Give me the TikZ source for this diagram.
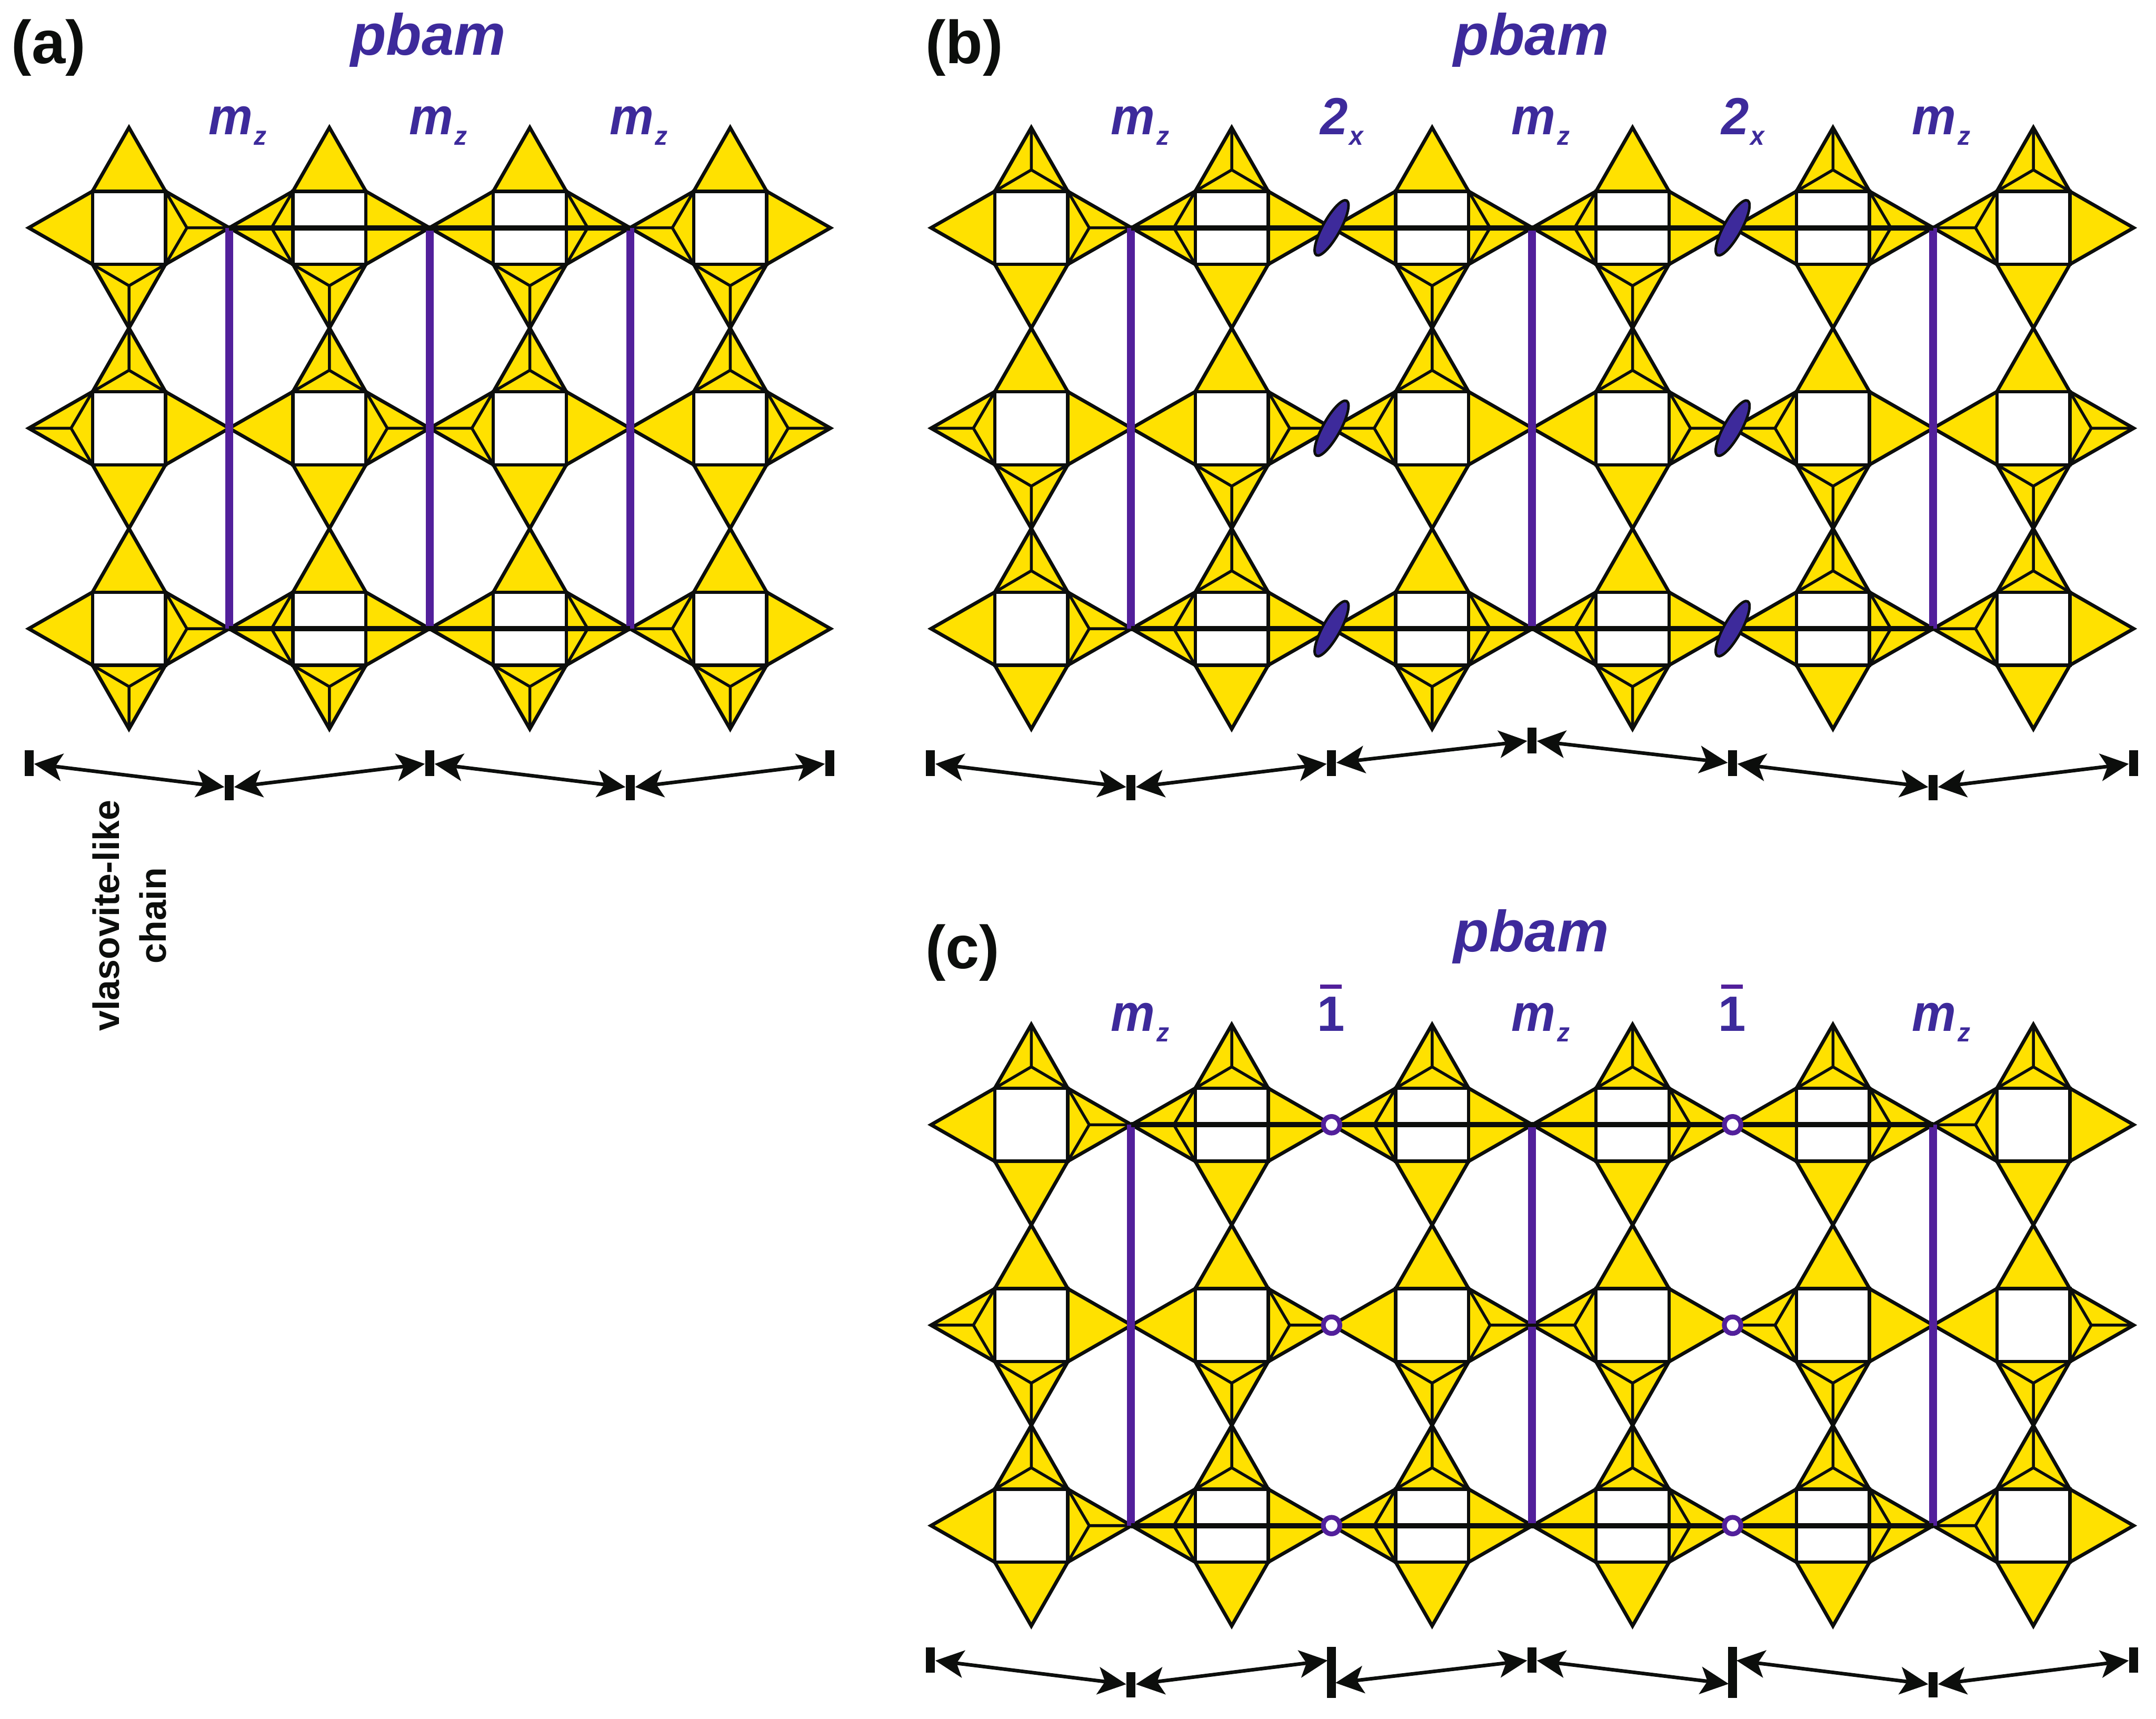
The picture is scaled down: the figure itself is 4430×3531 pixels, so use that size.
\documentclass[tikz,border=0pt]{standalone}
\usepackage{fontspec}
\setmainfont{Liberation Sans}
\newfontfamily\symbi[FakeStretch=0.95]{Liberation Sans}
\usetikzlibrary{arrows.meta}
\definecolor{gold}{HTML}{FFE100}
\definecolor{ink}{HTML}{0C0E0C}
\definecolor{labelblue}{HTML}{3D2A9B}
\definecolor{mirrorpurple}{HTML}{52209B}
\tikzset{
  outeredge/.style={draw=ink,fill=gold,line width=2.05pt,miter limit=20},
  squareedge/.style={draw=ink,fill=white,line width=1.95pt},
  inneredge/.style={draw=ink,line width=1.7pt},
  mirrorline/.style={draw=mirrorpurple,line width=4.6pt},
  thickline/.style={draw=ink,line width=3pt},
  foldmark/.style={draw=ink,fill=labelblue,line width=1.5pt},
  invring/.style={draw=mirrorpurple,fill=white,line width=2.8pt},
  ticknode/.style={fill=ink,inner sep=0pt,minimum width=5.2pt,minimum height=15pt},
  talltick/.style={fill=ink,inner sep=0pt,minimum width=5.2pt,minimum height=30pt},
  dimline/.style={draw=ink,line width=2.1pt,{Stealth[length=16.5pt,width=16pt,inset=4pt]}-{Stealth[length=16.5pt,width=16pt,inset=4pt]}},
  symtext/.style={anchor=base west,inner sep=0pt,text=labelblue,font=\fontsize{30.5}{32}\symbi\bfseries\itshape},
  numtext/.style={anchor=base,inner sep=0pt,text=labelblue,font=\fontsize{29}{30}\selectfont\bfseries},
  titletext/.style={anchor=base west,inner sep=0pt,text=labelblue,font=\fontsize{34}{36}\selectfont\bfseries\itshape},
  paneltext/.style={anchor=base west,inner sep=0pt,text=ink,font=\fontsize{35.5}{38}\selectfont\bfseries},
}
\newcommand\tetT{\draw[inneredge] (-75,-75) -- (0,-119) -- (75,-75) (0,-119) -- (0,-206);}
\newcommand\tetR{\draw[inneredge] (75,-75) -- (119,0) -- (75,75) (119,0) -- (206,0);}
\newcommand\tetB{\draw[inneredge] (-75,75) -- (0,119) -- (75,75) (0,119) -- (0,206);}
\newcommand\tetL{\draw[inneredge] (-75,-75) -- (-119,0) -- (-75,75) (-119,0) -- (-206,0);}
\newcommand\tetYA{\tetT\tetR}
\newcommand\tetYB{\tetT\tetL}
\newcommand\tetYC{\tetR\tetB}
\newcommand\tetYD{\tetL\tetB}
\newcommand\tetstar[3]{%
  \begin{scope}[shift={(#1,#2)}]
    \path[outeredge] (0,-206) -- (75,-75) -- (206,0) -- (75,75) -- (0,206) -- (-75,75) -- (-206,0) -- (-75,-75) -- cycle;
    \path[squareedge] (-75,-75) rectangle (75,75);
    \csname tetY#3\endcsname
  \end{scope}}
\newcommand\tetrow[3]{%
  \foreach \ty [count=\k from 0] in {#3} {%
    \pgfmathsetmacro\xx{#1+411.8*\k}%
    \tetstar{\xx}{#2}{\ty}%
  }}
\newcommand\mzlabel{m\kern0.85pt\raisebox{-6.26pt}{\fontsize{15.5}{16}\selectfont z}}
\newcommand\twolabel{2\kern1pt\raisebox{-6.26pt}{\fontsize{15.5}{16}\selectfont x}}
\begin{document}
\begin{tikzpicture}[x=0.01cm,y=-0.01cm]
\useasboundingbox (0,0) rectangle (4430,3531);

% ---------- panel (a)
\tetrow{265}{468}{C,D,C,D}
\tetrow{265}{879.7}{B,A,B,A}
\tetrow{265}{1291.5}{C,D,C,D}
\coordinate (am1t) at (471,468);  \coordinate (am1b) at (471,1291.5);
\coordinate (am2t) at (883,468);  \coordinate (am2b) at (883,1291.5);
\coordinate (am3t) at (1295,468); \coordinate (am3b) at (1295,1291.5);
\draw[mirrorline] (am1t) -- (am1b);
\draw[mirrorline] (am2t) -- (am2b);
\draw[mirrorline] (am3t) -- (am3b);
\draw[thickline] (am1t) -- (am3t);
\draw[thickline] (am1b) -- (am3b);

\node[paneltext] (la) at (23,130) {(a)};
\node[titletext] (ta) at (720,113) {pbam};
\node[symtext] (am1l) at (428,276) {\mzlabel};
\node[symtext] (am2l) at (840,276) {\mzlabel};
\node[symtext] (am3l) at (1252,276) {\mzlabel};

\node[ticknode] (a0) at (60,1568) {};
\node[ticknode] (a1) at (471,1618) {};
\node[ticknode] (a2) at (883,1568) {};
\node[ticknode] (a3) at (1295,1618) {};
\node[ticknode] (a4) at (1705,1568) {};
\draw[dimline] (a0) -- (a1);
\draw[dimline] (a1) -- (a2);
\draw[dimline] (a2) -- (a3);
\draw[dimline] (a3) -- (a4);
\node[rotate=90,align=center,inner sep=0pt,text=ink,font=\fontsize{21.5}{27.3}\selectfont\bfseries] (vl) at (266,1881) {vlasovite-like\\chain};

% ---------- panel (b)
\tetrow{2119}{468}{A,B,C,D,A,B}
\tetrow{2119}{879.7}{D,C,B,A,D,C}
\tetrow{2119}{1291.5}{A,B,C,D,A,B}
\coordinate (bm1t) at (2324,468);  \coordinate (bm1b) at (2324,1291.5);
\coordinate (bm2t) at (3148,468);  \coordinate (bm2b) at (3148,1291.5);
\coordinate (bm3t) at (3972,468);  \coordinate (bm3b) at (3972,1291.5);
\draw[mirrorline] (bm1t) -- (bm1b);
\draw[mirrorline] (bm2t) -- (bm2b);
\draw[mirrorline] (bm3t) -- (bm3b);
\draw[thickline] (bm1t) -- (bm3t);
\draw[thickline] (bm1b) -- (bm3b);
\foreach \fx in {2736,3560} \foreach \fy in {468,879.7,1291.5} {
  \draw[foldmark,shift={(\fx,\fy)},rotate=61] (0,0) ellipse [x radius=64,y radius=18];
}
\node[paneltext] (lb) at (1901,130) {(b)};
\node[titletext] (tb) at (2986,113) {pbam};
\node[symtext] (bm1l) at (2282,276) {\mzlabel};
\node[symtext] (bm2l) at (3105,276) {\mzlabel};
\node[symtext] (bm3l) at (3928,276) {\mzlabel};
\node[symtext] (bf1l) at (2712,276) {\twolabel};
\node[symtext] (bf2l) at (3536,276) {\twolabel};

\node[ticknode] (b0) at (1912,1568) {};
\node[ticknode] (b1) at (2324,1618) {};
\node[ticknode] (b2) at (2736,1568) {};
\node[ticknode] (b3) at (3148,1521) {};
\node[ticknode] (b4) at (3560,1568) {};
\node[ticknode] (b5) at (3972,1618) {};
\node[ticknode] (b6) at (4384,1568) {};
\draw[dimline] (b0) -- (b1);
\draw[dimline] (b1) -- (b2);
\draw[dimline] (b2) -- (b3);
\draw[dimline] (b3) -- (b4);
\draw[dimline] (b4) -- (b5);
\draw[dimline] (b5) -- (b6);

% ---------- panel (c)
\tetrow{2119}{2310.5}{A,B,B,A,A,B}
\tetrow{2119}{2722.2}{D,C,C,D,D,C}
\tetrow{2119}{3134}{A,B,B,A,A,B}
\coordinate (cm1t) at (2324,2310.5);  \coordinate (cm1b) at (2324,3134);
\coordinate (cm2t) at (3148,2310.5);  \coordinate (cm2b) at (3148,3134);
\coordinate (cm3t) at (3972,2310.5);  \coordinate (cm3b) at (3972,3134);
\draw[mirrorline] (cm1t) -- (cm1b);
\draw[mirrorline] (cm2t) -- (cm2b);
\draw[mirrorline] (cm3t) -- (cm3b);
\draw[thickline] (cm1t) -- (cm3t);
\draw[thickline] (cm1b) -- (cm3b);
\draw[inneredge] (3140,2722.2) -- (3156,2722.2);
\foreach \fx in {2736,3560} \foreach \fy in {2310.5,2722.2,3134} {
  \path[invring] (\fx,\fy) circle [radius=17];
}
\node[paneltext] (lc) at (1901,1990) {(c)};
\node[titletext] (tc) at (2986,1955) {pbam};
\node[symtext] (cm1l) at (2282,2118) {\mzlabel};
\node[symtext] (cm2l) at (3105,2118) {\mzlabel};
\node[symtext] (cm3l) at (3928,2118) {\mzlabel};
\node[numtext] (ci1l) at (2735,2118) {1};
\node[numtext] (ci2l) at (3559,2118) {1};
\fill[mirrorpurple] (2713,2023) rectangle (2757,2031);
\fill[mirrorpurple] (3537,2023) rectangle (3581,2031);

\node[ticknode] (c0) at (1912,3410) {};
\node[ticknode] (c1) at (2324,3461) {};
\node[talltick] (c2) at (2736,3435.5) {};
\node[ticknode] (c3) at (3148,3410) {};
\node[talltick] (c4) at (3560,3435.5) {};
\node[ticknode] (c5) at (3972,3461) {};
\node[ticknode] (c6) at (4384,3410) {};
\coordinate (c2w) at (2728,3411);
\coordinate (c2e) at (2744,3457);
\coordinate (c4w) at (3552,3459);
\coordinate (c4e) at (3568,3411);
\draw[dimline] (c0) -- (c1);
\draw[dimline] (c1) -- (c2w);
\draw[dimline] (c2e) -- (c3);
\draw[dimline] (c3) -- (c4w);
\draw[dimline] (c4e) -- (c5);
\draw[dimline] (c5) -- (c6);
\end{tikzpicture}
\end{document}
